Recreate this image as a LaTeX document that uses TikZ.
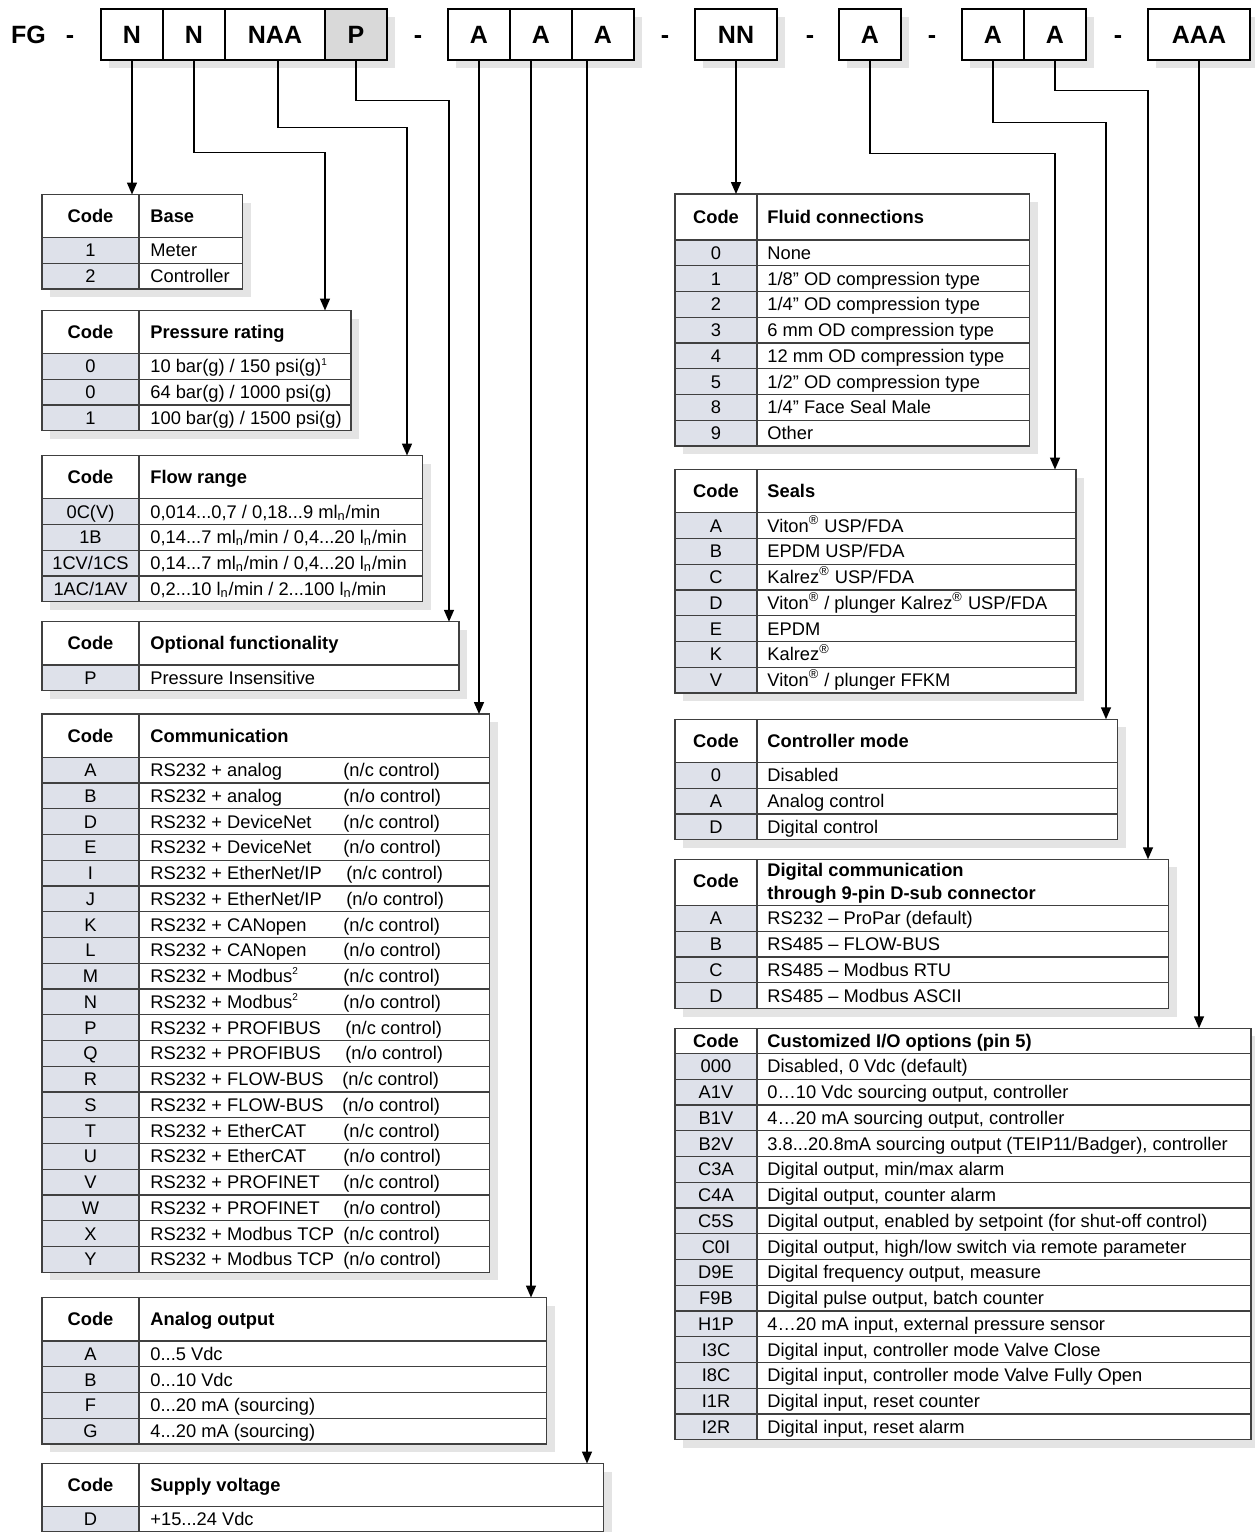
\documentclass[tikz,border=0pt]{standalone}
\usepackage{fontspec}
\setmainfont{Liberation Sans}
\usepackage{xcolor}
\usepackage{tikz}
\usetikzlibrary{arrows.meta}

\definecolor{rulegray}{RGB}{64,64,64}
\definecolor{codegray}{RGB}{222,225,234}
\definecolor{shadowgray}{RGB}{228,228,228}
\definecolor{pgray}{RGB}{217,217,217}

\tikzset{
  topbox/.style={draw=black, line width=0.7pt, fill=white, inner sep=0pt, minimum height=25.5pt, font=\fontsize{12.5}{15}\selectfont\bfseries},
  toptext/.style={anchor=base, yshift=-4.5pt, inner sep=0pt, font=\fontsize{12.5}{15}\selectfont\bfseries},
  shadowfill/.style={fill=shadowgray},
  codecol/.style={fill=codegray},
  tabrule/.style={draw=rulegray, line width=0.55pt},
  link/.style={line width=0.75pt, -{Triangle[length=6pt,width=5pt]}},
  cd/.style={anchor=base, yshift=-3.2pt, inner sep=0pt, font=\fontsize{9.15}{11}\selectfont},
  tx/.style={anchor=base west, yshift=-3.2pt, inner sep=0pt, font=\fontsize{9.15}{11}\selectfont},
  hcd/.style={cd, font=\fontsize{9.15}{11}\selectfont\bfseries},
  htx/.style={tx, font=\fontsize{9.15}{11}\selectfont\bfseries},
}

\begin{document}
\begin{tikzpicture}[x=0.5pt,y=-0.5pt]
\useasboundingbox (0,0) rectangle (1254,1532);

\fill[shadowfill] (109,17) rectangle (395,68);
\fill[shadowfill] (456,17) rectangle (642,68);
\fill[shadowfill] (703,17) rectangle (785,68);
\fill[shadowfill] (847,17) rectangle (909,68);
\fill[shadowfill] (970,17) rectangle (1094,68);
\fill[shadowfill] (1156,17) rectangle (1258,68);
\node[toptext] (fg) at (28.5,34.5) {FG};
\node[toptext] (dash1) at (70,34.5) {-};
\node[topbox, minimum width=31pt] (n1) at (132,34.5) {N};
\node[topbox, minimum width=31pt] (n2) at (194,34.5) {N};
\node[topbox, minimum width=50pt] (naa) at (275,34.5) {NAA};
\node[topbox, minimum width=31pt, fill=pgray] (p) at (356,34.5) {P};
\node[toptext] (dash2) at (418,34.5) {-};
\node[topbox, minimum width=31pt] (a1) at (479,34.5) {A};
\node[topbox, minimum width=31pt] (a2) at (541,34.5) {A};
\node[topbox, minimum width=31pt] (a3) at (603,34.5) {A};
\node[toptext] (dash3) at (665,34.5) {-};
\node[topbox, minimum width=41pt] (nn) at (736,34.5) {NN};
\node[toptext] (dash4) at (810,34.5) {-};
\node[topbox, minimum width=31pt] (a4) at (870,34.5) {A};
\node[toptext] (dash5) at (932,34.5) {-};
\node[topbox, minimum width=31pt] (a5) at (993,34.5) {A};
\node[topbox, minimum width=31pt] (a6) at (1055,34.5) {A};
\node[toptext] (dash6) at (1118,34.5) {-};
\node[topbox, minimum width=51pt] (aaa) at (1199,34.5) {AAA};

\fill[shadowfill] (50,202.5) rectangle (250.5,297);
\fill[white] (42,194.5) rectangle (242.5,289);
\fill[codecol] (42,237.5) rectangle (139,289);
\draw[tabrule] (42,194.5) rectangle (242.5,289) (139,194.5) -- (139,289)
  (42,237.5) -- (242.5,237.5) (42,263.25) -- (242.5,263.25);
\node[hcd] (base-hc) at (90.5,216) {Code};
\node[htx] (base-ht) at (150,216) {Base};
\node[cd] (base-1) at (90.5,250.4) {1};
\node[tx] (base-1t) at (150,250.4) {Meter};
\node[cd] (base-2) at (90.5,276.1) {2};
\node[tx] (base-2t) at (150,276.1) {Controller};
\coordinate (base-in) at (132,194.5);

\fill[shadowfill] (50,318.5) rectangle (359,438.75);
\fill[white] (42,310.5) rectangle (351,430.75);
\fill[codecol] (42,353.5) rectangle (139,430.75);
\draw[tabrule] (42,310.5) rectangle (351,430.75) (139,310.5) -- (139,430.75)
  (42,353.5) -- (351,353.5) (42,379.25) -- (351,379.25) (42,405) -- (351,405);
\node[hcd] (pres-hc) at (90.5,332) {Code};
\node[htx] (pres-ht) at (150,332) {Pressure rating};
\node[cd] (pres-1) at (90.5,366.4) {0};
\node[tx] (pres-1t) at (150,366.4) {10 bar(g) / 150 psi(g)\textsuperscript{\tiny 1}};
\node[cd] (pres-2) at (90.5,392.1) {0};
\node[tx] (pres-2t) at (150,392.1) {64 bar(g) / 1000 psi(g)};
\node[cd] (pres-3) at (90.5,417.9) {1};
\node[tx] (pres-3t) at (150,417.9) {100 bar(g) / 1500 psi(g)};
\coordinate (pres-in) at (325,310.5);

\fill[shadowfill] (50,463.5) rectangle (430.5,609.75);
\fill[white] (42,455.5) rectangle (422.5,601.75);
\fill[codecol] (42,498.75) rectangle (139,601.75);
\draw[tabrule] (42,455.5) rectangle (422.5,601.75) (139,455.5) -- (139,601.75)
  (42,498.75) -- (422.5,498.75) (42,524.5) -- (422.5,524.5)
  (42,550.25) -- (422.5,550.25) (42,576) -- (422.5,576);
\node[hcd] (flow-hc) at (90.5,477.1) {Code};
\node[htx] (flow-ht) at (150,477.1) {Flow range};
\node[cd] (flow-1) at (90.5,511.6) {0C(V)};
\node[tx] (flow-1t) at (150,511.6) {0,014...0,7 / 0,18...9 ml\textsubscript{n}/min};
\node[cd] (flow-2) at (90.5,537.4) {1B};
\node[tx] (flow-2t) at (150,537.4) {0,14...7 ml\textsubscript{n}/min / 0,4...20 l\textsubscript{n}/min};
\node[cd] (flow-3) at (90.5,563.1) {1CV/1CS};
\node[tx] (flow-3t) at (150,563.1) {0,14...7 ml\textsubscript{n}/min / 0,4...20 l\textsubscript{n}/min};
\node[cd] (flow-4) at (90.5,588.9) {1AC/1AV};
\node[tx] (flow-4t) at (150,588.9) {0,2...10 l\textsubscript{n}/min / 2...100 l\textsubscript{n}/min};
\coordinate (flow-in) at (407,455.5);

\fill[shadowfill] (50,629.75) rectangle (467,698.75);
\fill[white] (42,621.75) rectangle (459,690.75);
\fill[codecol] (42,665) rectangle (139,690.75);
\draw[tabrule] (42,621.75) rectangle (459,690.75) (139,621.75) -- (139,690.75)
  (42,665) -- (459,665);
\node[hcd] (opt-hc) at (90.5,643.4) {Code};
\node[htx] (opt-ht) at (150,643.4) {Optional functionality};
\node[cd] (opt-1) at (90.5,677.9) {P};
\node[tx] (opt-1t) at (150,677.9) {Pressure Insensitive};
\coordinate (opt-in) at (449,621.75);

\fill[shadowfill] (50,722) rectangle (497.5,1280.25);
\fill[white] (42,714) rectangle (489.5,1272.25);
\fill[codecol] (42,757.25) rectangle (139,1272.25);
\draw[tabrule] (42,714) rectangle (489.5,1272.25) (139,714) -- (139,1272.25)
  (42,757.25) -- (489.5,757.25) (42,783) -- (489.5,783)
  (42,808.75) -- (489.5,808.75) (42,834.5) -- (489.5,834.5)
  (42,860.25) -- (489.5,860.25) (42,886) -- (489.5,886)
  (42,911.75) -- (489.5,911.75) (42,937.5) -- (489.5,937.5)
  (42,963.25) -- (489.5,963.25) (42,989) -- (489.5,989)
  (42,1014.75) -- (489.5,1014.75) (42,1040.5) -- (489.5,1040.5)
  (42,1066.25) -- (489.5,1066.25) (42,1092) -- (489.5,1092)
  (42,1117.75) -- (489.5,1117.75) (42,1143.5) -- (489.5,1143.5)
  (42,1169.25) -- (489.5,1169.25) (42,1195) -- (489.5,1195)
  (42,1220.75) -- (489.5,1220.75) (42,1246.5) -- (489.5,1246.5);
\node[hcd] (com-hc) at (90.5,735.6) {Code};
\node[htx] (com-ht) at (150,735.6) {Communication};
\node[cd] (com-a) at (90.5,770.1) {A};
\node[tx] (com-at) at (150,770.1) {RS232 + analog};
\node[tx] (com-ac) at (343,770.1) {(n/c control)};
\node[cd] (com-b) at (90.5,795.9) {B};
\node[tx] (com-bt) at (150,795.9) {RS232 + analog};
\node[tx] (com-bc) at (343,795.9) {(n/o control)};
\node[cd] (com-d) at (90.5,821.6) {D};
\node[tx] (com-dt) at (150,821.6) {RS232 + DeviceNet};
\node[tx] (com-dc) at (343,821.6) {(n/c control)};
\node[cd] (com-e) at (90.5,847.4) {E};
\node[tx] (com-et) at (150,847.4) {RS232 + DeviceNet};
\node[tx] (com-ec) at (343,847.4) {(n/o control)};
\node[cd] (com-i) at (90.5,873.1) {I};
\node[tx] (com-it) at (150,873.1) {RS232 + EtherNet/IP};
\node[tx] (com-ic) at (346,873.1) {(n/c control)};
\node[cd] (com-j) at (90.5,898.9) {J};
\node[tx] (com-jt) at (150,898.9) {RS232 + EtherNet/IP};
\node[tx] (com-jc) at (346,898.9) {(n/o control)};
\node[cd] (com-k) at (90.5,924.6) {K};
\node[tx] (com-kt) at (150,924.6) {RS232 + CANopen};
\node[tx] (com-kc) at (343,924.6) {(n/c control)};
\node[cd] (com-l) at (90.5,950.4) {L};
\node[tx] (com-lt) at (150,950.4) {RS232 + CANopen};
\node[tx] (com-lc) at (343,950.4) {(n/o control)};
\node[cd] (com-m) at (90.5,976.1) {M};
\node[tx] (com-mt) at (150,976.1) {RS232 + Modbus\textsuperscript{\tiny 2}};
\node[tx] (com-mc) at (343,976.1) {(n/c control)};
\node[cd] (com-n) at (90.5,1001.9) {N};
\node[tx] (com-nt) at (150,1001.9) {RS232 + Modbus\textsuperscript{\tiny 2}};
\node[tx] (com-nc) at (343,1001.9) {(n/o control)};
\node[cd] (com-p) at (90.5,1027.6) {P};
\node[tx] (com-pt) at (150,1027.6) {RS232 + PROFIBUS};
\node[tx] (com-pc) at (345,1027.6) {(n/c control)};
\node[cd] (com-q) at (90.5,1053.4) {Q};
\node[tx] (com-qt) at (150,1053.4) {RS232 + PROFIBUS};
\node[tx] (com-qc) at (345,1053.4) {(n/o control)};
\node[cd] (com-r) at (90.5,1079.1) {R};
\node[tx] (com-rt) at (150,1079.1) {RS232 + FLOW-BUS};
\node[tx] (com-rc) at (342,1079.1) {(n/c control)};
\node[cd] (com-s) at (90.5,1104.9) {S};
\node[tx] (com-st) at (150,1104.9) {RS232 + FLOW-BUS};
\node[tx] (com-sc) at (342,1104.9) {(n/o control)};
\node[cd] (com-t) at (90.5,1130.6) {T};
\node[tx] (com-tt) at (150,1130.6) {RS232 + EtherCAT};
\node[tx] (com-tc) at (343,1130.6) {(n/c control)};
\node[cd] (com-u) at (90.5,1156.4) {U};
\node[tx] (com-ut) at (150,1156.4) {RS232 + EtherCAT};
\node[tx] (com-uc) at (343,1156.4) {(n/o control)};
\node[cd] (com-v) at (90.5,1182.1) {V};
\node[tx] (com-vt) at (150,1182.1) {RS232 + PROFINET};
\node[tx] (com-vc) at (343,1182.1) {(n/c control)};
\node[cd] (com-w) at (90.5,1207.9) {W};
\node[tx] (com-wt) at (150,1207.9) {RS232 + PROFINET};
\node[tx] (com-wc) at (343,1207.9) {(n/o control)};
\node[cd] (com-x) at (90.5,1233.6) {X};
\node[tx] (com-xt) at (150,1233.6) {RS232 + Modbus TCP};
\node[tx] (com-xc) at (343,1233.6) {(n/c control)};
\node[cd] (com-y) at (90.5,1259.4) {Y};
\node[tx] (com-yt) at (150,1259.4) {RS232 + Modbus TCP};
\node[tx] (com-yc) at (343,1259.4) {(n/o control)};
\coordinate (com-in) at (479,714);

\fill[shadowfill] (50,1305.5) rectangle (554.5,1452);
\fill[white] (42,1297.5) rectangle (546.5,1444);
\fill[codecol] (42,1341) rectangle (139,1444);
\draw[tabrule] (42,1297.5) rectangle (546.5,1444) (139,1297.5) -- (139,1444)
  (42,1341) -- (546.5,1341) (42,1366.75) -- (546.5,1366.75)
  (42,1392.5) -- (546.5,1392.5) (42,1418.25) -- (546.5,1418.25);
\node[hcd] (ana-hc) at (90.5,1319.25) {Code};
\node[htx] (ana-ht) at (150,1319.25) {Analog output};
\node[cd] (ana-a) at (90.5,1353.9) {A};
\node[tx] (ana-at) at (150,1353.9) {0...5 Vdc};
\node[cd] (ana-b) at (90.5,1379.6) {B};
\node[tx] (ana-bt) at (150,1379.6) {0...10 Vdc};
\node[cd] (ana-f) at (90.5,1405.4) {F};
\node[tx] (ana-ft) at (150,1405.4) {0...20 mA (sourcing)};
\node[cd] (ana-g) at (90.5,1431.1) {G};
\node[tx] (ana-gt) at (150,1431.1) {4...20 mA (sourcing)};
\coordinate (ana-in) at (531,1297.5);

\fill[shadowfill] (50,1471.5) rectangle (611.5,1540);
\fill[white] (42,1463.5) rectangle (603.5,1531.5);
\fill[codecol] (42,1506.5) rectangle (139,1531.5);
\draw[tabrule] (42,1463.5) rectangle (603.5,1531.5) (139,1463.5) -- (139,1531.5)
  (42,1506.5) -- (603.5,1506.5);
\node[hcd] (sup-hc) at (90.5,1485) {Code};
\node[htx] (sup-ht) at (150,1485) {Supply voltage};
\node[cd] (sup-d) at (90.5,1519.2) {D};
\node[tx] (sup-dt) at (150,1519.2) {+15...24 Vdc};
\coordinate (sup-in) at (587,1463.5);

\fill[shadowfill] (683,202) rectangle (1037.5,454);
\fill[white] (675,194) rectangle (1029.5,446);
\fill[codecol] (675,240) rectangle (757,446);
\draw[tabrule] (675,194) rectangle (1029.5,446) (757,194) -- (757,446)
  (675,240) -- (1029.5,240) (675,265.75) -- (1029.5,265.75)
  (675,291.5) -- (1029.5,291.5) (675,317.25) -- (1029.5,317.25)
  (675,343) -- (1029.5,343) (675,368.75) -- (1029.5,368.75)
  (675,394.5) -- (1029.5,394.5) (675,420.25) -- (1029.5,420.25);
\node[hcd] (fluid-hc) at (716,217) {Code};
\node[htx] (fluid-ht) at (767,217) {Fluid connections};
\node[cd] (fluid-0) at (716,252.9) {0};
\node[tx] (fluid-0t) at (767,252.9) {None};
\node[cd] (fluid-1) at (716,278.6) {1};
\node[tx] (fluid-1t) at (767,278.6) {1/8” OD compression type};
\node[cd] (fluid-2) at (716,304.4) {2};
\node[tx] (fluid-2t) at (767,304.4) {1/4” OD compression type};
\node[cd] (fluid-3) at (716,330.1) {3};
\node[tx] (fluid-3t) at (767,330.1) {6 mm OD compression type};
\node[cd] (fluid-4) at (716,355.9) {4};
\node[tx] (fluid-4t) at (767,355.9) {12 mm OD compression type};
\node[cd] (fluid-5) at (716,381.6) {5};
\node[tx] (fluid-5t) at (767,381.6) {1/2” OD compression type};
\node[cd] (fluid-8) at (716,407.4) {8};
\node[tx] (fluid-8t) at (767,407.4) {1/4” Face Seal Male};
\node[cd] (fluid-9) at (716,433.1) {9};
\node[tx] (fluid-9t) at (767,433.1) {Other};
\coordinate (fluid-in) at (736,194);

\fill[shadowfill] (683,477.5) rectangle (1084,701);
\fill[white] (675,469.5) rectangle (1076,693);
\fill[codecol] (675,512.75) rectangle (757,693);
\draw[tabrule] (675,469.5) rectangle (1076,693) (757,469.5) -- (757,693)
  (675,512.75) -- (1076,512.75) (675,538.5) -- (1076,538.5)
  (675,564.25) -- (1076,564.25) (675,590) -- (1076,590)
  (675,615.75) -- (1076,615.75) (675,641.5) -- (1076,641.5)
  (675,667.25) -- (1076,667.25);
\node[hcd] (seal-hc) at (716,491.1) {Code};
\node[htx] (seal-ht) at (767,491.1) {Seals};
\node[cd] (seal-a) at (716,525.6) {A};
\node[tx] (seal-at) at (767,525.6) {Viton\textsuperscript{®} USP/FDA};
\node[cd] (seal-b) at (716,551.4) {B};
\node[tx] (seal-bt) at (767,551.4) {EPDM USP/FDA};
\node[cd] (seal-c) at (716,577.1) {C};
\node[tx] (seal-ct) at (767,577.1) {Kalrez\textsuperscript{®} USP/FDA};
\node[cd] (seal-d) at (716,602.9) {D};
\node[tx] (seal-dt) at (767,602.9) {Viton\textsuperscript{®} / plunger Kalrez\textsuperscript{®} USP/FDA};
\node[cd] (seal-e) at (716,628.6) {E};
\node[tx] (seal-et) at (767,628.6) {EPDM};
\node[cd] (seal-k) at (716,654.4) {K};
\node[tx] (seal-kt) at (767,654.4) {Kalrez\textsuperscript{®}};
\node[cd] (seal-v) at (716,680.1) {V};
\node[tx] (seal-vt) at (767,680.1) {Viton\textsuperscript{®} / plunger FFKM};
\coordinate (seal-in) at (1055,469.5);

\fill[shadowfill] (683,727.25) rectangle (1125.5,847.75);
\fill[white] (675,719.25) rectangle (1117.5,839.75);
\fill[codecol] (675,762.5) rectangle (757,839.75);
\draw[tabrule] (675,719.25) rectangle (1117.5,839.75) (757,719.25) -- (757,839.75)
  (675,762.5) -- (1117.5,762.5) (675,788.25) -- (1117.5,788.25)
  (675,814) -- (1117.5,814);
\node[hcd] (ctrl-hc) at (716,740.9) {Code};
\node[htx] (ctrl-ht) at (767,740.9) {Controller mode};
\node[cd] (ctrl-0) at (716,775.4) {0};
\node[tx] (ctrl-0t) at (767,775.4) {Disabled};
\node[cd] (ctrl-a) at (716,801.1) {A};
\node[tx] (ctrl-at) at (767,801.1) {Analog control};
\node[cd] (ctrl-d) at (716,826.9) {D};
\node[tx] (ctrl-dt) at (767,826.9) {Digital control};
\coordinate (ctrl-in) at (1106,719.25);

\fill[shadowfill] (683,867.25) rectangle (1176.5,1016.5);
\fill[white] (675,859.25) rectangle (1168.5,1008.5);
\fill[codecol] (675,905.5) rectangle (757,1008.5);
\draw[tabrule] (675,859.25) rectangle (1168.5,1008.5) (757,859.25) -- (757,1008.5)
  (675,905.5) -- (1168.5,905.5) (675,931.25) -- (1168.5,931.25)
  (675,957) -- (1168.5,957) (675,982.75) -- (1168.5,982.75);
\node[hcd] (dig-hc) at (716,881.5) {Code};
\node[htx] (dig-ht1) at (767,870.3) {Digital communication};
\node[htx] (dig-ht2) at (767,892.6) {through 9-pin D-sub connector};
\node[cd] (dig-a) at (716,918.4) {A};
\node[tx] (dig-at) at (767,918.4) {RS232 – ProPar (default)};
\node[cd] (dig-b) at (716,944.1) {B};
\node[tx] (dig-bt) at (767,944.1) {RS485 – FLOW-BUS};
\node[cd] (dig-c) at (716,969.9) {C};
\node[tx] (dig-ct) at (767,969.9) {RS485 – Modbus RTU};
\node[cd] (dig-d) at (716,995.6) {D};
\node[tx] (dig-dt) at (767,995.6) {RS485 – Modbus ASCII};
\coordinate (dig-in) at (1148,859.25);

\fill[shadowfill] (683,1036.25) rectangle (1259,1447.75);
\fill[white] (675,1028.25) rectangle (1251,1439.75);
\fill[codecol] (675,1053.5) rectangle (757,1439.75);
\draw[tabrule] (675,1028.25) rectangle (1251,1439.75) (757,1028.25) -- (757,1439.75)
  (675,1053.5) -- (1251,1053.5) (675,1079.25) -- (1251,1079.25)
  (675,1105) -- (1251,1105) (675,1130.75) -- (1251,1130.75)
  (675,1156.5) -- (1251,1156.5) (675,1182.25) -- (1251,1182.25)
  (675,1208) -- (1251,1208) (675,1233.75) -- (1251,1233.75)
  (675,1259.5) -- (1251,1259.5) (675,1285.25) -- (1251,1285.25)
  (675,1311) -- (1251,1311) (675,1336.75) -- (1251,1336.75)
  (675,1362.5) -- (1251,1362.5) (675,1388.25) -- (1251,1388.25)
  (675,1414) -- (1251,1414);
\node[hcd] (cust-hc) at (716,1040.9) {Code};
\node[htx] (cust-ht) at (767,1040.9) {Customized I/O options (pin 5)};
\node[cd] (cust-1) at (716,1066.4) {000};
\node[tx] (cust-1t) at (767,1066.4) {Disabled, 0 Vdc (default)};
\node[cd] (cust-2) at (716,1092.1) {A1V};
\node[tx] (cust-2t) at (767,1092.1) {0…10 Vdc sourcing output, controller};
\node[cd] (cust-3) at (716,1117.9) {B1V};
\node[tx] (cust-3t) at (767,1117.9) {4…20 mA sourcing output, controller};
\node[cd] (cust-4) at (716,1143.6) {B2V};
\node[tx] (cust-4t) at (767,1143.6) {3.8...20.8mA sourcing output (TEIP11/Badger), controller};
\node[cd] (cust-5) at (716,1169.4) {C3A};
\node[tx] (cust-5t) at (767,1169.4) {Digital output, min/max alarm};
\node[cd] (cust-6) at (716,1195.1) {C4A};
\node[tx] (cust-6t) at (767,1195.1) {Digital output, counter alarm};
\node[cd] (cust-7) at (716,1220.9) {C5S};
\node[tx] (cust-7t) at (767,1220.9) {Digital output, enabled by setpoint (for shut-off control)};
\node[cd] (cust-8) at (716,1246.6) {C0I};
\node[tx] (cust-8t) at (767,1246.6) {Digital output, high/low switch via remote parameter};
\node[cd] (cust-9) at (716,1272.4) {D9E};
\node[tx] (cust-9t) at (767,1272.4) {Digital frequency output, measure};
\node[cd] (cust-10) at (716,1298.1) {F9B};
\node[tx] (cust-10t) at (767,1298.1) {Digital pulse output, batch counter};
\node[cd] (cust-11) at (716,1323.9) {H1P};
\node[tx] (cust-11t) at (767,1323.9) {4…20 mA input, external pressure sensor};
\node[cd] (cust-12) at (716,1349.6) {I3C};
\node[tx] (cust-12t) at (767,1349.6) {Digital input, controller mode Valve Close};
\node[cd] (cust-13) at (716,1375.4) {I8C};
\node[tx] (cust-13t) at (767,1375.4) {Digital input, controller mode Valve Fully Open};
\node[cd] (cust-14) at (716,1401.1) {I1R};
\node[tx] (cust-14t) at (767,1401.1) {Digital input, reset counter};
\node[cd] (cust-15) at (716,1426.9) {I2R};
\node[tx] (cust-15t) at (767,1426.9) {Digital input, reset alarm};
\coordinate (cust-in) at (1199,1028.25);

\draw[link] (n1.south) -- (base-in);
\draw[link] (n2.south) -- ++(0,92) -| (pres-in);
\draw[link] ([xshift=1.5pt]naa.south) -- ++(0,67) -| (flow-in);
\draw[link] (p.south) -- ++(0,40) -| (opt-in);
\draw[link] (a1.south) -- (com-in);
\draw[link] ([xshift=-5pt]a2.south) -- (ana-in);
\draw[link] ([xshift=-8pt]a3.south) -- (sup-in);
\draw[link] (nn.south) -- (fluid-in);
\draw[link] (a4.south) -- ++(0,93) -| (seal-in);
\draw[link] (a5.south) -- ++(0,62) -| (ctrl-in);
\draw[link] (a6.south) -- ++(0,30) -| (dig-in);
\draw[link] (aaa.south) -- (cust-in);
\end{tikzpicture}
\end{document}
